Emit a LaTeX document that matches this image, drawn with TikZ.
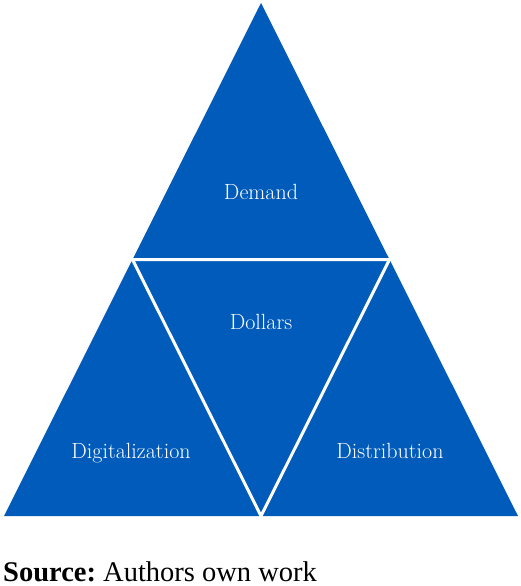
\documentclass[tikz,border=0pt]{standalone}
\usepackage{fontspec}
\newfontfamily\sourcefont{Liberation Serif}
\definecolor{pyramid}{RGB}{0,91,187}

\begin{document}
\begin{tikzpicture}[x = 1pt, y = -1pt,
part/.style = {text = white, inner sep = 0pt, font = \fontsize{22}{26}\selectfont},
divider/.style = {draw = white, line width = 3pt, line join = miter}]

\useasboundingbox (0, 0) rectangle (520, 586);

\coordinate (top) at (261, 3);
\coordinate (left) at (4, 516);
\coordinate (right) at (518, 516);
\coordinate (mid left) at (132.5, 259.5);
\coordinate (mid right) at (389.5, 259.5);
\coordinate (bottom) at (261, 516);

\fill[pyramid] (top) -- (right) -- (left) -- cycle;
\draw[divider] (mid left) -- (mid right) -- (bottom) -- cycle;

\node[part, anchor = base] (demand) at (261, 199) {Demand};
\node[part, anchor = base] (dollars) at (261, 329) {Dollars};
\node[part, anchor = base] (digitalization) at (131, 458) {Digitalization};
\node[part, anchor = base] (distribution) at (390, 458) {Distribution};

\node[anchor = base west, inner sep = 0pt, font = \sourcefont\fontsize{28.5}{31}\selectfont] (source) at (3, 581) {\textbf{Source:}~Authors own work};

\end{tikzpicture}
\end{document}
